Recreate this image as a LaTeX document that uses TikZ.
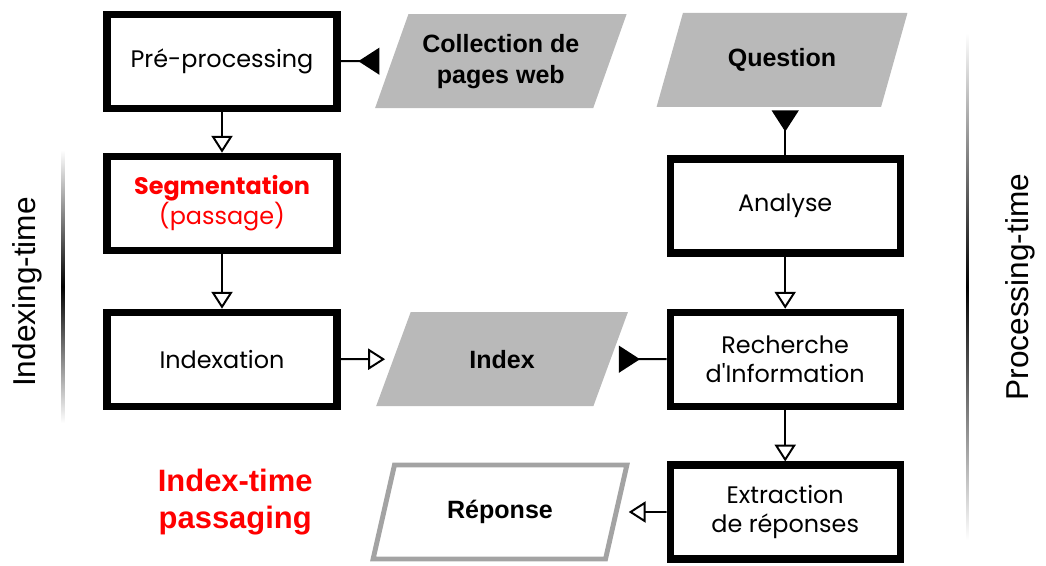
\documentclass[tikz,border=0pt]{standalone}
\usepackage{fontspec}
\setmainfont{Liberation Sans}
\newfontfamily\gothic{Poppins}
\usetikzlibrary{arrows.meta,shapes.geometric}

\tikzset{
  stage/.style={draw, line width=5pt, rectangle, minimum width=5.75cm, minimum height=2.35cm,
    align=center, font=\gothic\fontsize{17}{21}\selectfont},
  datum/.style={trapezium, trapezium left angle=66, trapezium right angle=114, trapezium stretches=true,
    minimum width=6.3cm, minimum height=2.35cm, inner xsep=0pt, align=center,
    font=\bfseries\fontsize{17.8}{22}\selectfont},
  flow/.style={line width=1.4pt, -{Triangle[open, length=12pt, width=15pt]}},
  feed/.style={line width=1.4pt, {Triangle[reversed, length=15pt, width=19pt]}-},
  phase/.style={font=\fontsize{22.5}{26}\selectfont, rotate=90}
}

\begin{document}
\begin{tikzpicture}
    \def \colA{5.55}
    \def \colB{12.52}
    \def \colC{19.63}

    \useasboundingbox (0,0) rectangle (26.15,-14.15);

    % indexing side
    \node[stage] (pre) at (\colA,-1.53) {Pré-processing};
    \node[stage, text=red] (seg) at (\colA,-5.08) {\textbf{Segmentation}\\(passage)};
    \node[stage] (idx) at (\colA,-8.98) {Indexation};

    \node[datum, fill=gray!55] (coll) at (\colB,-1.53) {Collection de\\pages web};
    \node[datum, fill=gray!55] (index) at (\colB+0.03,-8.98) {Index};
    \node[datum, trapezium left angle=72, trapezium right angle=108, minimum width=6.38cm,
      draw=gray!72, line width=3.5pt] (rep) at (\colB-0.02,-12.8) {Réponse};

    % processing side
    \node[datum, fill=gray!55] (quest) at (\colB+7.03,-1.5) {Question};
    \node[stage] (ana) at (\colC,-5.15) {Analyse};
    \node[stage] (rech) at (\colC,-8.98) {Recherche\\d'Information};
    \node[stage] (extr) at (\colC,-12.8) {Extraction\\de réponses};

    \draw[feed, shorten <=0.3cm] (coll) -- (pre);
    \draw[flow] (pre) -- (seg);
    \draw[flow] (seg) -- (idx);
    \draw[flow, shorten >=0.2cm] (idx) -- (index);
    \draw[feed, shorten <=0.08cm] (quest.south -| ana) -- (ana);
    \draw[feed, shorten <=0.2cm] (index) -- (rech);
    \draw[flow] (ana) -- (rech);
    \draw[flow] (rech) -- (extr);
    \draw[flow, shorten >=0.25cm] (extr) -- (rep);

    % phases
    \shade[top color=white, bottom color=white, middle color=black] (1.54,-3.75) rectangle (1.61,-10.58);
    \shade[top color=white, bottom color=white, middle color=black] (24.15,-0.83) rectangle (24.22,-13.5);
    \node[phase] (indexing) at (0.68,-7.3) {Indexing-time};
    \node[phase] (processing) at (25.5,-7.18) {Processing-time};
    \node[text=red, align=center, font=\bfseries\fontsize{22}{26}\selectfont] (passaging) at (5.88,-12.55) {Index-time\\passaging};
\end{tikzpicture}
\end{document}
